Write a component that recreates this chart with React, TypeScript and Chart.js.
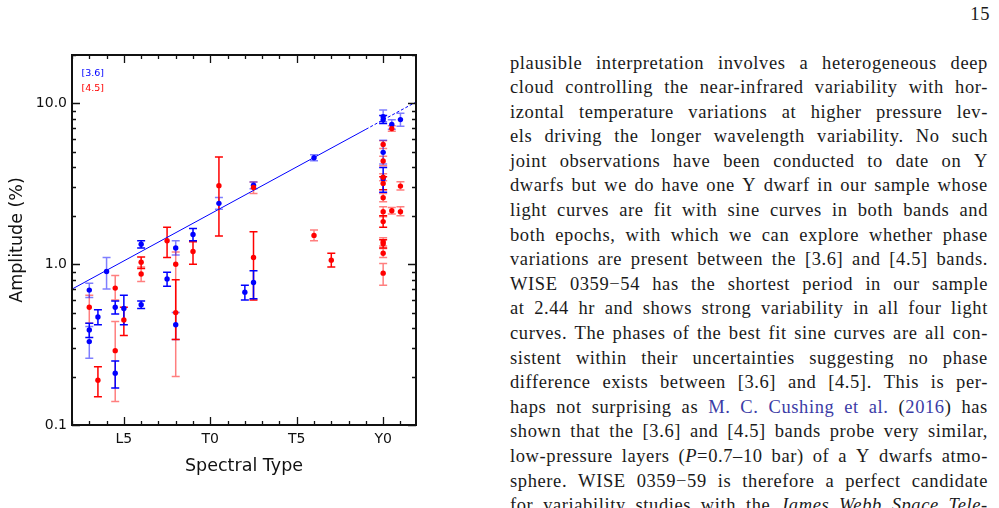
import React, { useEffect, useRef } from 'react';
import { Chart, registerables } from 'chart.js';

Chart.register(...registerables);

// Spectral types are indexed numerically: L0 = 10, T0 = 20, Y0 = 30.
const typeTicks = [15, 20, 25, 30];
const typeTickLabels = ['L5', 'T0', 'T5', 'Y0'];
const ampTicks = [0.1, 1, 10];
const ampTickLabels = ['0.1', '1.0', '10.0'];
const bandNames = ['[3.6]', '[4.5]'];

// [3.6] amplitudes (%), with lower / upper error limits; epoch 2 is drawn faded
const ch1Type = [13, 13, 13, 13.5, 14, 14.5, 14.5, 15, 16, 16, 17.5, 18, 18, 19, 20.5, 22, 22.5, 22.5, 26, 30, 30, 30, 30, 30.5, 31];
const ch1Amp = [0.69, 0.39, 0.33, 0.47, 0.9, 0.54, 0.21, 0.53, 1.33, 0.56, 0.81, 1.26, 0.42, 1.53, 2.39, 0.67, 0.77, 3.1, 4.59, 8.26, 7.9, 4.96, 3.4, 7.4, 7.93];
const ch1Low = [0.62, 0.35, 0.26, 0.42, 0.7, 0.49, 0.17, 0.42, 1.26, 0.53, 0.73, 1.14, 0.34, 1.4, 2.2, 0.6, 0.61, 2.95, 4.4, 7.7, 7.5, 4.2, 2.8, 6.9, 7.2];
const ch1High = [0.76, 0.43, 0.41, 0.52, 1.1, 0.59, 0.25, 0.64, 1.4, 0.59, 0.89, 1.4, 0.5, 1.67, 2.6, 0.74, 0.91, 3.25, 4.8, 9.1, 8.4, 5.9, 4.0, 7.9, 8.7];
const ch1Epoch = [2, 1, 2, 1, 2, 1, 1, 1, 1, 1, 1, 2, 2, 1, 2, 1, 1, 2, 2, 2, 1, 2, 1, 2, 2];

// [4.5] amplitudes (%)
const ch2Type = [13, 13.5, 14.5, 14.5, 15, 16, 16, 17.5, 18, 18, 19, 20.5, 22.5, 22.5, 26, 27, 30, 30, 30, 30, 30, 30, 30, 30, 30, 30, 30, 30.5, 30.5, 31, 31];
const ch2Amp = [0.54, 0.19, 0.71, 0.29, 0.45, 1.03, 0.87, 1.4, 1.0, 0.5, 1.2, 3.08, 3.0, 1.1, 1.51, 1.06, 5.56, 4.38, 3.47, 3.18, 2.59, 2.12, 1.84, 1.38, 1.34, 1.17, 0.88, 6.97, 2.15, 3.06, 2.12];
const ch2Low = [0.43, 0.15, 0.6, 0.14, 0.36, 0.94, 0.78, 1.1, 0.2, 0.34, 1.0, 1.5, 2.75, 0.6, 1.4, 0.96, 5.25, 4.1, 3.3, 2.9, 2.45, 1.97, 1.7, 1.3, 1.26, 1.1, 0.74, 6.7, 2.05, 2.89, 2.0];
const ch2High = [0.64, 0.23, 0.85, 0.44, 0.54, 1.11, 0.96, 1.7, 1.19, 0.8, 1.38, 4.65, 3.25, 1.59, 1.63, 1.17, 5.85, 4.7, 3.65, 3.5, 2.75, 2.28, 2.0, 1.46, 1.42, 1.25, 1.01, 7.25, 2.25, 3.26, 2.28];
const ch2Epoch = [2, 1, 2, 2, 1, 1, 2, 1, 2, 1, 1, 1, 2, 1, 2, 1, 2, 2, 2, 1, 2, 2, 1, 2, 1, 2, 2, 2, 2, 2, 2];

// Linear fit of log amplitude against spectral type for [3.6]; extrapolated part is dashed
const fitType = [12, 29, 31.9];
const fitAmp = [0.7, 6.9, 10.2];

const BLUE = '#0000ff';
const RED = '#ff0000';
const BLUE_FADED = 'rgba(0,0,255,0.5)';
const RED_FADED = 'rgba(255,0,0,0.5)';
const INK = '#111111';
const SANS = 'DejaVu Sans';

// Right-hand column of the page
const pageNumber = '15';
const bodyLines = [
  'plausible interpretation involves a heterogeneous deep',
  'cloud controlling the near-infrared variability with hor-',
  'izontal temperature variations at higher pressure lev-',
  'els driving the longer wavelength variability. No such',
  'joint observations have been conducted to date on Y',
  'dwarfs but we do have one Y dwarf in our sample whose',
  'light curves are fit with sine curves in both bands and',
  'both epochs, with which we can explore whether phase',
  'variations are present between the [3.6] and [4.5] bands.',
  'WISE 0359\u221254 has the shortest period in our sample',
  'at 2.44 hr and shows strong variability in all four light',
  'curves. The phases of the best fit sine curves are all con-',
  'sistent within their uncertainties suggesting no phase',
  'difference exists between [3.6] and [4.5]. This is per-',
  'haps not surprising as {M.} {C.} {Cushing} {et} {al.} ({2016}) has',
  'shown that the [3.6] and [4.5] bands probe very similar,',
  'low-pressure layers (*P*=0.7\u201310 bar) of a Y dwarfs atmo-',
  'sphere. WISE 0359\u221259 is therefore a perfect candidate',
  'for variability studies with the *James* *Webb* *Space* *Tele-*',
];

const LINK = '#3b3ba6';

function renderWord(word: string, key: number) {
  const parts = word.split(/(\{[^}]*\}|\*[^*]*\*)/).filter((p) => p.length > 0);
  return (
    <span key={key}>
      {parts.map((p, i) => {
        if (p.startsWith('{')) return <span key={i} style={{ color: LINK }}>{p.slice(1, -1)}</span>;
        if (p.startsWith('*')) return <i key={i}>{p.slice(1, -1)}</i>;
        return <span key={i}>{p}</span>;
      })}
    </span>
  );
}

type ErrPoint = { x: number; y: number; lo: number; hi: number; ep: number };

function makePoints(t: number[], a: number[], lo: number[], hi: number[], ep: number[]): ErrPoint[] {
  return t.map((x, i) => ({ x, y: a[i], lo: lo[i], hi: hi[i], ep: ep[i] }));
}

const errorBarsPlugin = {
  id: 'errorBars',
  beforeDatasetsDraw(chart: any) {
    const { ctx, chartArea, scales } = chart;
    const xs = scales.x;
    const ys = scales.y;
    ctx.save();
    ctx.beginPath();
    ctx.rect(chartArea.left, chartArea.top, chartArea.right - chartArea.left, chartArea.bottom - chartArea.top);
    ctx.clip();
    ctx.lineWidth = 1.5;
    const sets = chart.data.datasets.filter((d: any) => d.barColors);
    // faded epoch first, then solid
    [2, 1].forEach((epoch) => {
      sets.forEach((ds: any) => {
        ds.data.forEach((p: ErrPoint) => {
          if (p.ep !== epoch) return;
          const x = xs.getPixelForValue(p.x);
          const y1 = ys.getPixelForValue(p.lo);
          const y2 = ys.getPixelForValue(p.hi);
          ctx.strokeStyle = epoch === 2 ? ds.barColors[1] : ds.barColors[0];
          ctx.beginPath();
          ctx.moveTo(x, y1);
          ctx.lineTo(x, y2);
          ctx.moveTo(x - 4, y1);
          ctx.lineTo(x + 4, y1);
          ctx.moveTo(x - 4, y2);
          ctx.lineTo(x + 4, y2);
          ctx.stroke();
        });
      });
    });
    ctx.restore();
  },
};

const framePlugin = {
  id: 'frame',
  afterDraw(chart: any) {
    const { ctx, chartArea, scales } = chart;
    const { left, right, top, bottom } = chartArea;
    const xs = scales.x;
    const ys = scales.y;
    ctx.save();
    ctx.strokeStyle = INK;
    ctx.lineWidth = 1.3;
    ctx.beginPath();
    // ticks along bottom and top, pointing inwards
    for (let v = Math.ceil(xs.min); v <= xs.max; v += 1) {
      const px = Math.round(xs.getPixelForValue(v)) + 0.5;
      const len = v % 5 === 0 ? 8 : 4;
      ctx.moveTo(px, bottom);
      ctx.lineTo(px, bottom - len);
      ctx.moveTo(px, top);
      ctx.lineTo(px, top + len);
    }
    // log ticks along left and right
    for (const dec of [0.1, 1, 10]) {
      for (let m = 1; m <= 9; m++) {
        const v = dec * m;
        if (v < ys.min - 1e-9 || v > ys.max + 1e-9) continue;
        const py = Math.round(ys.getPixelForValue(v)) + 0.5;
        const len = m === 1 ? 8 : 4;
        ctx.moveTo(left, py);
        ctx.lineTo(left + len, py);
        ctx.moveTo(right, py);
        ctx.lineTo(right - len, py);
      }
    }
    ctx.stroke();
    ctx.lineWidth = 2;
    ctx.strokeRect(left, top, right - left, bottom - top);

    // band key in the upper-left corner
    ctx.font = `9.5px "${SANS}"`;
    ctx.textBaseline = 'middle';
    ctx.textAlign = 'left';
    ctx.fillStyle = BLUE;
    ctx.fillText(bandNames[0], left + 9.5, top + 19);
    ctx.fillStyle = RED;
    ctx.fillText(bandNames[1], left + 9.5, top + 34);
    ctx.restore();
  },
};

export default function App() {
  const canvasRef = useRef<HTMLCanvasElement>(null);

  useEffect(() => {
    const canvas = canvasRef.current!;
    const chart = new Chart(canvas, {
      type: 'scatter',
      data: {
        datasets: [
          {
            label: bandNames[1],
            data: makePoints(ch2Type, ch2Amp, ch2Low, ch2High, ch2Epoch),
            backgroundColor: RED,
            borderWidth: 0,
            pointRadius: 2.7,
            pointHoverRadius: 2.7,
            barColors: [RED, RED_FADED],
          } as any,
          {
            label: bandNames[0],
            data: makePoints(ch1Type, ch1Amp, ch1Low, ch1High, ch1Epoch),
            backgroundColor: BLUE,
            borderWidth: 0,
            pointRadius: 2.7,
            pointHoverRadius: 2.7,
            barColors: [BLUE, BLUE_FADED],
          } as any,
          {
            type: 'line',
            label: 'fit',
            data: [
              { x: fitType[0], y: fitAmp[0] },
              { x: fitType[1], y: fitAmp[1] },
            ],
            borderColor: BLUE,
            borderWidth: 1,
            pointRadius: 0,
            fill: false,
          } as any,
          {
            type: 'line',
            label: 'fit extension',
            data: [
              { x: fitType[1], y: fitAmp[1] },
              { x: fitType[2], y: fitAmp[2] },
            ],
            borderColor: BLUE,
            borderWidth: 1,
            borderDash: [3, 2],
            pointRadius: 0,
            fill: false,
          } as any,
        ],
      },
      options: {
        responsive: false,
        animation: false,
        events: [],
        layout: { padding: { left: 0, top: 55, right: 54, bottom: 0 } },
        scales: {
          x: {
            type: 'linear',
            min: 12,
            max: 31.9,
            afterBuildTicks: (s: any) => {
              s.ticks = typeTicks.map((v) => ({ value: v }));
            },
            afterFit: (s: any) => {
              s.height = 83;
            },
            ticks: {
              callback: (v: any) => typeTickLabels[typeTicks.indexOf(Number(v))] ?? '',
              font: { family: SANS, size: 14 },
              color: INK,
              padding: 5.5,
              maxRotation: 0,
            },
            grid: { display: false, drawTicks: false },
            border: { display: false },
            title: {
              display: true,
              text: 'Spectral Type',
              font: { family: SANS, size: 17.5 },
              color: INK,
              padding: { top: 0, bottom: 31.5 },
            },
          },
          y: {
            type: 'logarithmic',
            min: 0.1,
            max: 20,
            afterBuildTicks: (s: any) => {
              s.ticks = ampTicks.map((v) => ({ value: v }));
            },
            afterFit: (s: any) => {
              s.width = 72;
            },
            ticks: {
              callback: (v: any) => ampTickLabels[ampTicks.findIndex((t) => Math.abs(t - Number(v)) < 1e-9)] ?? '',
              font: { family: SANS, size: 14 },
              color: INK,
              padding: 5,
            },
            grid: { display: false, drawTicks: false },
            border: { display: false },
            title: {
              display: true,
              text: 'Amplitude (%)',
              font: { family: SANS, size: 17.5 },
              color: INK,
              padding: { top: 6.5, bottom: 0 },
            },
          },
        },
        plugins: {
          legend: { display: false },
          tooltip: { enabled: false },
        },
      },
      plugins: [errorBarsPlugin, framePlugin],
    });
    return () => chart.destroy();
  }, []);

  const serif = '"Liberation Serif", "Times New Roman", serif';

  return (
    <div
      style={{
        position: 'absolute',
        left: 0,
        top: 0,
        width: 999,
        height: 508,
        overflow: 'hidden',
        background: '#ffffff',
      }}
    >
      <canvas ref={canvasRef} width={470} height={508} style={{ position: 'absolute', left: 0, top: 0, width: 470, height: 508 }} />
      <div
        style={{
          position: 'absolute',
          right: 9,
          top: 1.6,
          fontFamily: serif,
          fontSize: 18.5,
          lineHeight: '24.6px',
          letterSpacing: 0.6,
          color: '#1a1a1a',
        }}
      >
        {pageNumber}
      </div>
      <div
        style={{
          position: 'absolute',
          left: 510,
          top: 50.5,
          width: 478,
          fontFamily: serif,
          fontSize: 18.5,
          lineHeight: '24.6px',
          letterSpacing: 0.6,
          color: '#1a1a1a',
        }}
      >
        {bodyLines.map((line, i) => (
          <div key={i} style={{ display: 'flex', justifyContent: 'space-between', height: 24.6, whiteSpace: 'nowrap' }}>
            {line.split(' ').map((w, j) => renderWord(w, j))}
          </div>
        ))}
      </div>
    </div>
  );
}
